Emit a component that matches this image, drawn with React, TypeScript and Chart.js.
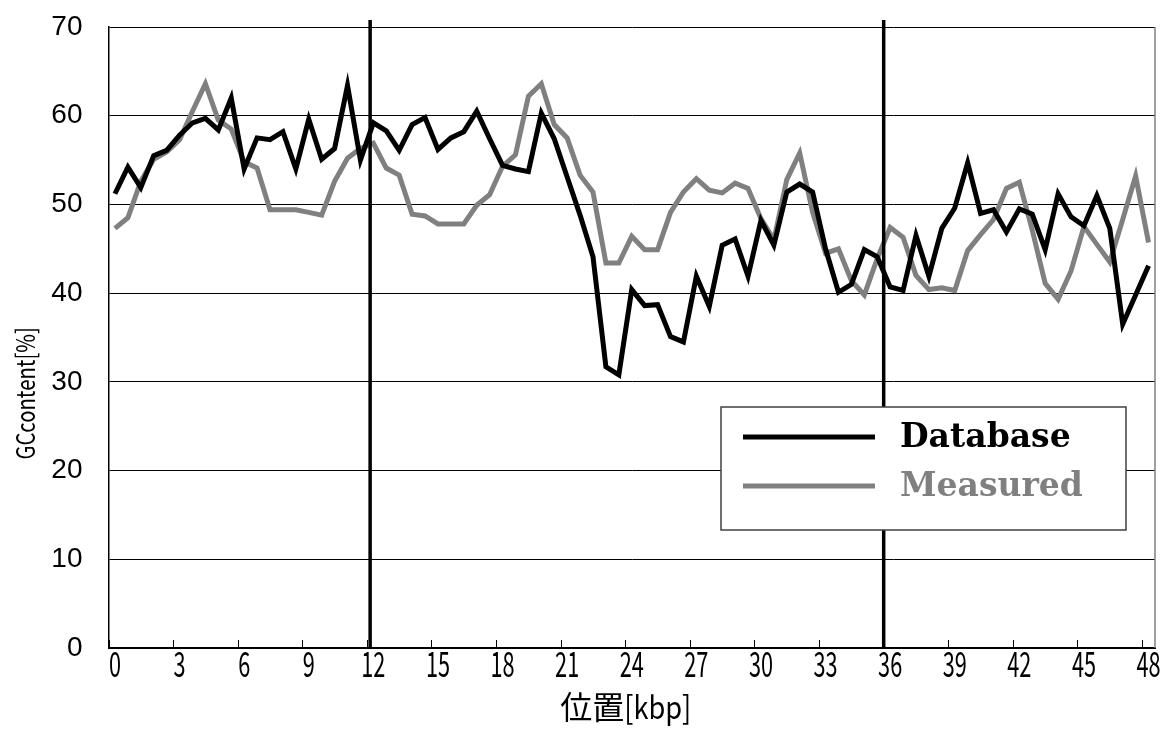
import React, { useEffect, useRef } from 'react';
import { Chart, registerables } from 'chart.js';

Chart.register(...registerables);

const POSITIONS_KBP = [
  0, 0.6, 1.2, 1.8, 2.4, 3, 3.6, 4.2, 4.8, 5.4, 6, 6.6, 7.2, 7.8, 8.4, 9, 9.6, 10.2, 10.8, 11.4,
  12, 12.6, 13.2, 13.8, 14.4, 15, 15.6, 16.2, 16.8, 17.4, 18, 18.6, 19.2, 19.8, 20.4, 21, 21.6, 22.2, 22.8, 23.4,
  24, 24.6, 25.2, 25.8, 26.4, 27, 27.6, 28.2, 28.8, 29.4, 30, 30.6, 31.2, 31.8, 32.4, 33, 33.6, 34.2, 34.8, 35.4,
  36, 36.6, 37.2, 37.8, 38.4, 39, 39.6, 40.2, 40.8, 41.4, 42, 42.6, 43.2, 43.8, 44.4, 45, 45.6, 46.2, 46.8, 47.4, 48,
];

const DATABASE = [
  51.2, 54.2, 51.9, 55.5, 56.1, 57.8, 59.2, 59.7, 58.4, 62.0, 54.0, 57.5, 57.3, 58.2, 54.0, 59.6, 55.1, 56.3, 63.4, 55.0,
  59.2, 58.3, 56.1, 59.0, 59.8, 56.2, 57.5, 58.2, 60.5, 57.4, 54.4, 54.0, 53.7, 60.3, 57.4, 53.1, 48.8, 44.1, 31.7, 30.8,
  40.4, 38.6, 38.7, 35.1, 34.5, 41.9, 38.5, 45.4, 46.1, 41.9, 48.2, 45.4, 51.4, 52.3, 51.4, 45.0, 40.1, 41.0, 44.9, 44.1,
  40.7, 40.3, 46.5, 41.9, 47.3, 49.6, 54.7, 49.0, 49.4, 46.9, 49.5, 48.9, 44.9, 51.2, 48.6, 47.6, 51.0, 47.3, 36.5, 39.8, 43.1,
];

const MEASURED = [
  47.3, 48.5, 52.6, 55.1, 55.9, 57.3, 60.5, 63.6, 59.5, 58.5, 54.8, 54.1, 49.4, 49.4, 49.4, 49.1, 48.8, 52.6, 55.2, 56.3,
  56.9, 54.1, 53.3, 48.9, 48.7, 47.8, 47.8, 47.8, 49.9, 51.1, 54.3, 55.6, 62.2, 63.6, 59.0, 57.5, 53.3, 51.4, 43.4, 43.4,
  46.4, 44.9, 44.9, 49.1, 51.4, 52.9, 51.6, 51.3, 52.4, 51.8, 48.4, 46.0, 52.8, 55.8, 49.1, 44.5, 45.0, 41.4, 39.8, 43.9,
  47.4, 46.3, 42.0, 40.4, 40.6, 40.3, 44.8, 46.6, 48.3, 51.8, 52.5, 47.1, 41.1, 39.3, 42.5, 47.5, 45.5, 43.5, 48.3, 53.2, 45.7,
];

const X_TICKS = [0, 3, 6, 9, 12, 15, 18, 21, 24, 27, 30, 33, 36, 39, 42, 45, 48];
const Y_TICKS = [0, 10, 20, 30, 40, 50, 60, 70];
const MARKERS_KBP = [11.85, 35.7];
const SERIES_NAMES = ['Database', 'Measured'];
const X_TITLE = '位置[kbp]';
const Y_TITLE = 'GCcontent[%]';

const BLACK = '#000000';
const GRAY = '#808080';
const COND_FONT = '"Noto Sans CJK JP", "DejaVu Sans", sans-serif';

function drawScaledText(ctx: CanvasRenderingContext2D, text: string, x: number, y: number, font: string, sx: number, color: string) {
  ctx.save();
  ctx.font = font;
  ctx.fillStyle = color;
  ctx.textBaseline = 'middle';
  ctx.textAlign = 'center';
  ctx.translate(x, y);
  ctx.scale(sx, 1);
  ctx.fillText(text, 0, 0);
  ctx.restore();
}

function drawMixedText(ctx: CanvasRenderingContext2D, text: string, cx: number, cy: number, font: string, asciiScale: number, color: string) {
  ctx.save();
  ctx.font = font;
  ctx.fillStyle = color;
  ctx.textBaseline = 'middle';
  ctx.textAlign = 'left';
  const runs: { t: string; s: number }[] = [];
  for (const ch of text) {
    const s = ch.charCodeAt(0) < 128 ? asciiScale : 1;
    if (runs.length && runs[runs.length - 1].s === s) runs[runs.length - 1].t += ch;
    else runs.push({ t: ch, s });
  }
  const total = runs.reduce((a, r) => a + ctx.measureText(r.t).width * r.s, 0);
  let x = cx - total / 2;
  for (const r of runs) {
    ctx.save();
    ctx.translate(x, cy);
    ctx.scale(r.s, 1);
    ctx.fillText(r.t, 0, 0);
    ctx.restore();
    x += ctx.measureText(r.t).width * r.s;
  }
  ctx.restore();
}

const decorPlugin = {
  id: 'decor',
  afterDatasetsDraw(chart: any) {
    const ctx: CanvasRenderingContext2D = chart.ctx;
    const area = chart.chartArea;
    const xs = chart.scales.x;
    ctx.save();
    // right border
    ctx.strokeStyle = GRAY;
    ctx.lineWidth = 1.5;
    ctx.beginPath();
    ctx.moveTo(area.right, area.top);
    ctx.lineTo(area.right, area.bottom);
    ctx.stroke();
    // inside tick marks at category boundaries
    ctx.strokeStyle = BLACK;
    ctx.lineWidth = 1;
    for (const t of X_TICKS) {
      const px = Math.round(xs.getPixelForValue(t - 0.3)) + 0.5;
      ctx.beginPath();
      ctx.moveTo(px, area.bottom);
      ctx.lineTo(px, area.bottom - 8);
      ctx.stroke();
    }
    // vertical marker lines
    ctx.strokeStyle = BLACK;
    ctx.lineWidth = 3.5;
    for (const m of MARKERS_KBP) {
      const px = xs.getPixelForValue(m);
      ctx.beginPath();
      ctx.moveTo(px, area.top - 7);
      ctx.lineTo(px, area.bottom);
      ctx.stroke();
    }
    ctx.restore();
  },
  afterDraw(chart: any) {
    const ctx: CanvasRenderingContext2D = chart.ctx;
    const area = chart.chartArea;
    const xs = chart.scales.x;
    // x tick labels
    for (const t of X_TICKS) {
      drawScaledText(ctx, String(t), xs.getPixelForValue(t), area.bottom + 16, `35px ${COND_FONT}`, 0.62, BLACK);
    }
    // x title
    drawMixedText(ctx, X_TITLE, (area.left + area.right) / 2 - 6, area.bottom + 59, `32px ${COND_FONT}`, 0.85, BLACK);
    // y title
    ctx.save();
    ctx.translate(25, area.top + (area.bottom - area.top) * 0.59);
    ctx.rotate(-Math.PI / 2);
    drawScaledText(ctx, Y_TITLE, 0, 0, `26px ${COND_FONT}`, 0.78, BLACK);
    ctx.restore();
    // legend box
    const lx = 721, ly = 407, lw = 405, lh = 123;
    ctx.save();
    ctx.fillStyle = '#ffffff';
    ctx.fillRect(lx, ly, lw, lh);
    ctx.strokeStyle = '#404040';
    ctx.lineWidth = 1.5;
    ctx.strokeRect(lx, ly, lw, lh);
    const colors = [BLACK, GRAY];
    const rows = [437, 486];
    ctx.font = 'bold 33px "DejaVu Serif", "Liberation Serif", serif';
    ctx.textBaseline = 'middle';
    ctx.textAlign = 'left';
    SERIES_NAMES.forEach((name, i) => {
      ctx.strokeStyle = colors[i];
      ctx.lineWidth = 5;
      ctx.beginPath();
      ctx.moveTo(743, rows[i]);
      ctx.lineTo(875, rows[i]);
      ctx.stroke();
      ctx.fillStyle = colors[i];
      ctx.fillText(name, 900, rows[i] + 1);
    });
    ctx.restore();
  },
};

export default function App() {
  const ref = useRef<HTMLCanvasElement | null>(null);
  useEffect(() => {
    document.body.style.margin = '0';
    const canvas = ref.current;
    if (!canvas) return;
    const chart = new Chart(canvas, {
      type: 'line',
      data: {
        datasets: [
          {
            label: SERIES_NAMES[0],
            data: DATABASE.map((v, i) => ({ x: POSITIONS_KBP[i], y: v })),
            borderColor: BLACK,
            borderWidth: 5,
            pointRadius: 0,
            tension: 0,
            borderJoinStyle: 'miter',
            order: 1,
          },
          {
            label: SERIES_NAMES[1],
            data: MEASURED.map((v, i) => ({ x: POSITIONS_KBP[i], y: v })),
            borderColor: GRAY,
            borderWidth: 5,
            pointRadius: 0,
            tension: 0,
            borderJoinStyle: 'miter',
            order: 2,
          },
        ],
      },
      options: {
        animation: false,
        responsive: false,
        maintainAspectRatio: false,
        layout: { padding: { top: 27, right: 9, left: 0, bottom: 0 } },
        plugins: { legend: { display: false }, tooltip: { enabled: false } },
        scales: {
          x: {
            type: 'linear',
            min: -0.3,
            max: 48.3,
            grid: { display: false },
            border: { display: true, color: BLACK, width: 2 },
            ticks: { display: false },
            afterBuildTicks: (s: any) => {
              s.ticks = X_TICKS.map((v) => ({ value: v }));
            },
            afterFit: (s: any) => {
              s.height = 101;
              s.paddingLeft = 0;
              s.paddingRight = 0;
            },
          },
          y: {
            type: 'linear',
            min: 0,
            max: 70,
            afterBuildTicks: (s: any) => {
              s.ticks = Y_TICKS.map((v) => ({ value: v }));
            },
            grid: { color: BLACK, lineWidth: 1, drawTicks: false },
            border: { display: true, color: BLACK, width: 1.5 },
            ticks: {
              color: BLACK,
              padding: 26,
              font: { family: '"Liberation Sans", Arial, sans-serif', size: 28 },
            },
            afterFit: (s: any) => {
              s.width = 108.5;
              s.paddingTop = 0;
              s.paddingBottom = 0;
            },
          },
        },
      },
      plugins: [decorPlugin],
    } as any);
    return () => chart.destroy();
  }, []);
  return (
    <div style={{ width: 1164, height: 749, position: 'relative' }}>
      <canvas ref={ref} width={1164} height={749} style={{ display: 'block' }} />
    </div>
  );
}
